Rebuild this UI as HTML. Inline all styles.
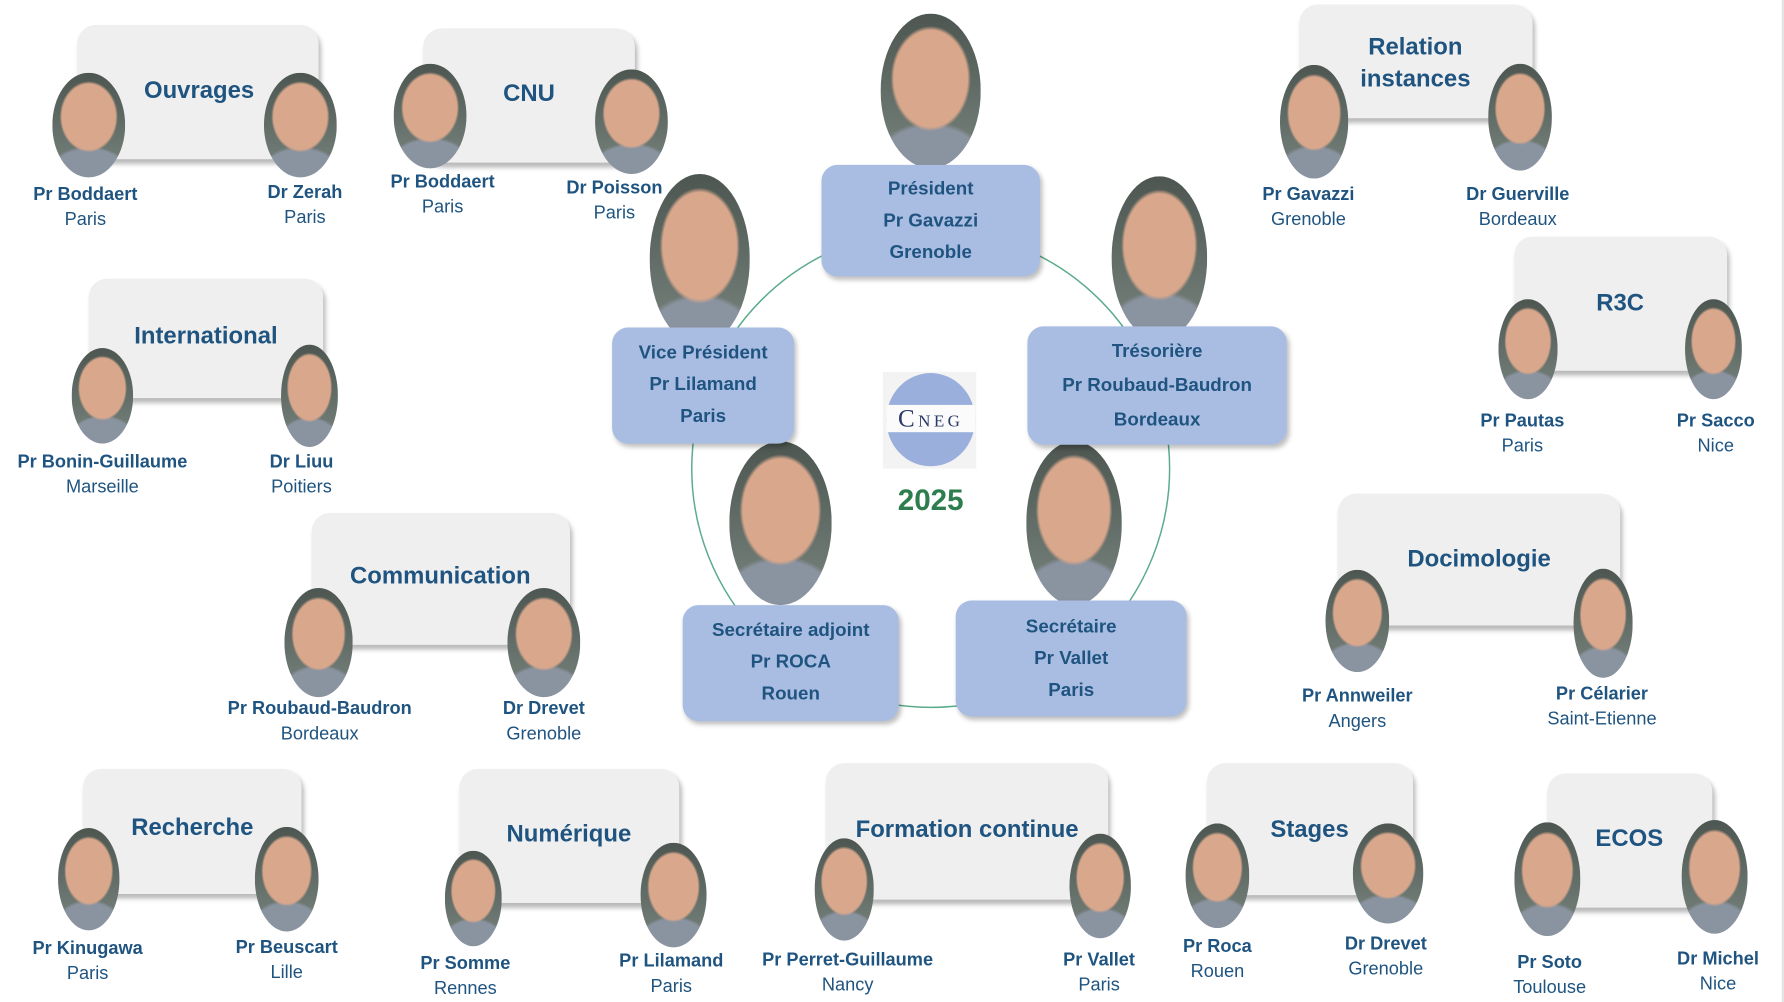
<!DOCTYPE html>
<html><head><meta charset="utf-8"><style>
html,body{margin:0;padding:0;background:#fff;width:1784px;height:1002px;overflow:hidden}
#w{position:absolute;left:0;top:0;width:1568px;height:881px;transform-origin:0 0;transform:scale(1.13776,1.13734);font-family:"Liberation Sans",sans-serif}
.p{position:absolute;background:#efefef;border-radius:16px;box-shadow:2px 4px 4px rgba(0,0,0,.28)}
.t{position:absolute;transform:translate(-50%,-50%);color:#1f5480;font-weight:bold;font-size:21px;white-space:nowrap;text-align:center;line-height:28px}
.ph{position:absolute;border-radius:50%;background:radial-gradient(ellipse 40% 34% at 50% 42%,#d8a78c 0 92%,transparent 100%),radial-gradient(ellipse 60% 30% at 50% 100%,#8a93a0 0 90%,transparent 100%),linear-gradient(#4d5650,#78847e)}
.n{position:absolute;transform:translateX(-50%);text-align:center;white-space:nowrap;color:#1f5480;font-size:16px;line-height:22px}
.n b{display:block}
.b{position:absolute;background:#a9bde2;border-radius:14px;box-shadow:2px 3px 4px rgba(0,0,0,.25);color:#1f5480;font-weight:bold;font-size:16.5px;text-align:center;line-height:28px;box-sizing:border-box}
</style></head><body><div id="w">
<div style="position:absolute;right:0;top:0;width:2px;height:881px;background:#e4e4e4"></div>
<svg style="position:absolute;left:0;top:0" width="1568" height="881"><circle cx="818" cy="412" r="210" fill="none" stroke="#5aab8a" stroke-width="1.3"/></svg>

<!-- panels -->
<div class="p" style="left:68px;top:22px;width:212px;height:118px"></div>
<div class="p" style="left:372px;top:25px;width:186px;height:118px"></div>
<div class="p" style="left:78px;top:245px;width:206px;height:105px"></div>
<div class="p" style="left:274px;top:451px;width:227px;height:116px"></div>
<div class="p" style="left:73px;top:676px;width:192px;height:110px"></div>
<div class="p" style="left:404px;top:676px;width:193px;height:118px"></div>
<div class="p" style="left:726px;top:671px;width:248px;height:120px"></div>
<div class="p" style="left:1061px;top:671px;width:181px;height:116px"></div>
<div class="p" style="left:1360px;top:680px;width:145px;height:118px"></div>
<div class="p" style="left:1142px;top:4px;width:205px;height:100px"></div>
<div class="p" style="left:1331px;top:208px;width:187px;height:118px"></div>
<div class="p" style="left:1176px;top:434px;width:248px;height:116px"></div>

<div class="t" style="left:175px;top:80px">Ouvrages</div>
<div class="t" style="left:465px;top:83px">CNU</div>
<div class="t" style="left:181px;top:296px">International</div>
<div class="t" style="left:387px;top:507px">Communication</div>
<div class="t" style="left:169px;top:728px">Recherche</div>
<div class="t" style="left:500px;top:734px">Numérique</div>
<div class="t" style="left:850px;top:730px">Formation continue</div>
<div class="t" style="left:1151px;top:730px">Stages</div>
<div class="t" style="left:1432px;top:738px">ECOS</div>
<div class="t" style="left:1244px;top:56px">Relation<br>instances</div>
<div class="t" style="left:1424px;top:267px">R3C</div>
<div class="t" style="left:1300px;top:492px">Docimologie</div>

<!-- photos -->
<div class="ph" style="left:46px;top:64px;width:64px;height:92px"></div>
<div class="ph" style="left:232px;top:64px;width:64px;height:92px"></div>
<div class="ph" style="left:346px;top:56px;width:64px;height:92px"></div>
<div class="ph" style="left:523px;top:61px;width:64px;height:92px"></div>
<div class="ph" style="left:63px;top:306px;width:54px;height:84px"></div>
<div class="ph" style="left:247px;top:303px;width:50px;height:90px"></div>
<div class="ph" style="left:250px;top:517px;width:60px;height:96px"></div>
<div class="ph" style="left:446px;top:517px;width:64px;height:96px"></div>
<div class="ph" style="left:51px;top:728px;width:54px;height:90px"></div>
<div class="ph" style="left:224px;top:727px;width:56px;height:92px"></div>
<div class="ph" style="left:391px;top:748px;width:50px;height:84px"></div>
<div class="ph" style="left:563px;top:741px;width:58px;height:92px"></div>
<div class="ph" style="left:716px;top:737px;width:52px;height:90px"></div>
<div class="ph" style="left:940px;top:733px;width:54px;height:92px"></div>
<div class="ph" style="left:1042px;top:724px;width:56px;height:92px"></div>
<div class="ph" style="left:1189px;top:724px;width:62px;height:88px"></div>
<div class="ph" style="left:1331px;top:723px;width:58px;height:100px"></div>
<div class="ph" style="left:1478px;top:721px;width:58px;height:100px"></div>
<div class="ph" style="left:1125px;top:57px;width:60px;height:100px"></div>
<div class="ph" style="left:1308px;top:56px;width:56px;height:94px"></div>
<div class="ph" style="left:1317px;top:263px;width:52px;height:88px"></div>
<div class="ph" style="left:1481px;top:263px;width:50px;height:88px"></div>
<div class="ph" style="left:1165px;top:501px;width:56px;height:90px"></div>
<div class="ph" style="left:1383px;top:500px;width:52px;height:96px"></div>

<div class="n" style="left:75px;top:161px"><b>Pr Boddaert</b>Paris</div>
<div class="n" style="left:268px;top:159px"><b>Dr Zerah</b>Paris</div>
<div class="n" style="left:389px;top:150px"><b>Pr Boddaert</b>Paris</div>
<div class="n" style="left:540px;top:155px"><b>Dr Poisson</b>Paris</div>
<div class="n" style="left:90px;top:396px"><b>Pr Bonin-Guillaume</b>Marseille</div>
<div class="n" style="left:265px;top:396px"><b>Dr Liuu</b>Poitiers</div>
<div class="n" style="left:281px;top:613px"><b>Pr Roubaud-Baudron</b>Bordeaux</div>
<div class="n" style="left:478px;top:613px"><b>Dr Drevet</b>Grenoble</div>
<div class="n" style="left:77px;top:824px"><b>Pr Kinugawa</b>Paris</div>
<div class="n" style="left:252px;top:823px"><b>Pr Beuscart</b>Lille</div>
<div class="n" style="left:409px;top:837px"><b>Pr Somme</b>Rennes</div>
<div class="n" style="left:590px;top:835px"><b>Pr Lilamand</b>Paris</div>
<div class="n" style="left:745px;top:834px"><b>Pr Perret-Guillaume</b>Nancy</div>
<div class="n" style="left:966px;top:834px"><b>Pr Vallet</b>Paris</div>
<div class="n" style="left:1070px;top:822px"><b>Pr Roca</b>Rouen</div>
<div class="n" style="left:1218px;top:820px"><b>Dr Drevet</b>Grenoble</div>
<div class="n" style="left:1362px;top:836px"><b>Pr Soto</b>Toulouse</div>
<div class="n" style="left:1510px;top:833px"><b>Dr Michel</b>Nice</div>
<div class="n" style="left:1150px;top:161px"><b>Pr Gavazzi</b>Grenoble</div>
<div class="n" style="left:1334px;top:161px"><b>Dr Guerville</b>Bordeaux</div>
<div class="n" style="left:1338px;top:360px"><b>Pr Pautas</b>Paris</div>
<div class="n" style="left:1508px;top:360px"><b>Pr Sacco</b>Nice</div>
<div class="n" style="left:1193px;top:602px"><b>Pr Annweiler</b>Angers</div>
<div class="n" style="left:1408px;top:600px"><b>Pr Célarier</b>Saint-Etienne</div>

<!-- central -->
<div class="ph" style="left:774px;top:12px;width:88px;height:136px"></div>
<div class="ph" style="left:571px;top:153px;width:88px;height:150px"></div>
<div class="ph" style="left:977px;top:155px;width:84px;height:144px"></div>
<div class="ph" style="left:641px;top:388px;width:90px;height:144px"></div>
<div class="ph" style="left:902px;top:388px;width:84px;height:144px"></div>
<div class="b" style="left:722px;top:145px;width:192px;height:98px;padding-top:7px">Président<br>Pr Gavazzi<br>Grenoble</div>
<div class="b" style="left:538px;top:288px;width:160px;height:102px;padding-top:8px">Vice Président<br>Pr Lilamand<br>Paris</div>
<div class="b" style="left:903px;top:287px;width:228px;height:104px;padding-top:7px;line-height:30px">Trésorière<br>Pr Roubaud-Baudron<br>Bordeaux</div>
<div class="b" style="left:600px;top:532px;width:190px;height:102px;padding-top:8px">Secrétaire adjoint<br>Pr ROCA<br>Rouen</div>
<div class="b" style="left:840px;top:528px;width:203px;height:102px;padding-top:9px">Secrétaire<br>Pr Vallet<br>Paris</div>

<div style="position:absolute;left:776px;top:327px;width:82px;height:85px;background:#f3f3f3"></div>
<div style="position:absolute;left:779px;top:328px;width:78px;height:82px;border-radius:50%;background:#9aafdc"></div>
<div style="position:absolute;left:779px;top:356px;width:78px;height:24px;background:#fbfbfb;font-family:'Liberation Serif',serif;color:#2a3a6a;font-size:15px;letter-spacing:3px;text-align:center;line-height:24px"><span style="font-size:22px">C</span>NEG</div>
<div style="position:absolute;left:818px;top:440px;transform:translate(-50%,-50%);color:#2e7d4f;font-weight:bold;font-size:26px">2025</div>
</div></body></html>
